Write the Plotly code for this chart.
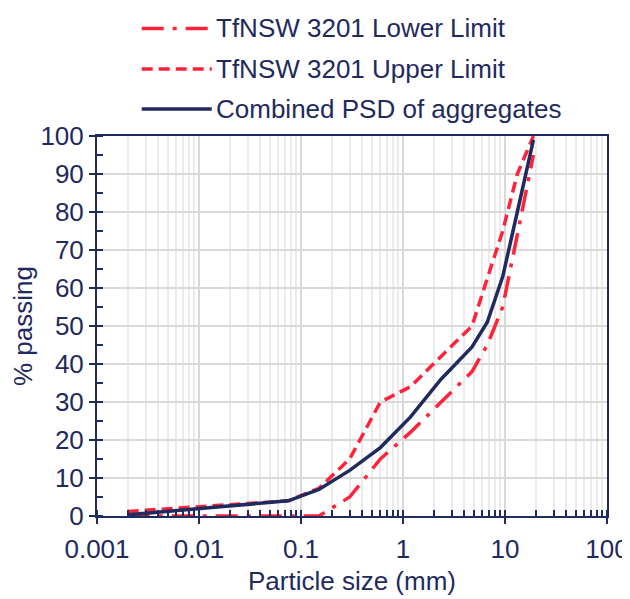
import plotly.graph_objects as go

# ---- data ----
sizes_mm = [0.002, 0.075, 0.15, 0.3, 0.6, 1.18, 2.36, 4.75, 6.7, 9.5, 13.2, 19]
lower_limit = [0, 0, 0, 5, 15, 22, 30, 38, 45, 55, 74, 95]
upper_limit = [1.2, 4, 7.3, 15, 30, 34, 42, 50, 62.5, 75, 90, 100]
combined_psd = [0.3, 4, 7, 12, 18, 26, 36, 44.5, 51, 63, 80, 99]

series_names = ["TfNSW 3201 Lower Limit", "TfNSW 3201 Upper Limit", "Combined PSD of aggregates"]
x_tick_vals = [0.001, 0.01, 0.1, 1, 10, 100]
x_tick_text = ["0.001", "0.01", "0.1", "1", "10", "100"]
x_title = "Particle size (mm)"
y_title = "% passing"

# ---- styles ----
NAVY = "#1F2A5E"
RED = "#FF2339"
FONT = "Liberation Sans, Arial, sans-serif"
FS = 26
dash_lower = "22px,9px,4px,9px"
dash_upper = "11px,6px"
solid = "solid"
styles = [(RED, dash_lower, 3.5), (RED, dash_upper, 3.5), (NAVY, solid, 3.5)]
series_values = [lower_limit, upper_limit, combined_psd]

fig = go.Figure()
for name, vals, (col, dash, w) in zip(series_names, series_values, styles):
    fig.add_trace(go.Scatter(x=sizes_mm, y=vals, mode="lines", name=name,
                             line=dict(color=col, dash=dash, width=w),
                             showlegend=False))

# invisible trace to activate overlay axes used for the inner half of major ticks
fig.add_trace(go.Scatter(x=[sizes_mm[0]], y=[lower_limit[0]], xaxis="x2", yaxis="y2",
                         mode="markers", marker=dict(opacity=0), showlegend=False,
                         hoverinfo="skip"))

# ---- manual legend (long sample lines as in the original) ----
legend_rows_y = [1.283, 1.176, 1.071]
shapes = []
annotations = []
for name, (col, dash, w), yy in zip(series_names, styles, legend_rows_y):
    shapes.append(dict(type="line", xref="paper", yref="paper", x0=0.0877, x1=0.225,
                       y0=yy, y1=yy, line=dict(color=col, dash=dash, width=w)))
    annotations.append(dict(text=name, xref="paper", yref="paper", x=0.229, y=yy,
                            xanchor="left", yanchor="middle", showarrow=False,
                            font=dict(family=FONT, size=FS, color=NAVY)))

fig.update_layout(
    width=622, height=591,
    margin=dict(l=89, r=23, t=128, b=83, autoexpand=False),
    paper_bgcolor="white", plot_bgcolor="white",
    font=dict(family=FONT, size=FS, color=NAVY),
    shapes=shapes, annotations=annotations,
    xaxis=dict(type="log", range=[-3, 2], tickmode="array", tickvals=x_tick_vals,
               ticktext=x_tick_text, ticks="outside", ticklen=6, tickwidth=2,
               tickcolor=NAVY, showline=True, linecolor=NAVY, linewidth=2, mirror=True,
               showgrid=True, gridcolor="#D9D9D9", gridwidth=1.5, zeroline=False,
               automargin=False, ticklabeloverflow="allow", ticklabelstandoff=3,
               minor=dict(tickmode="linear", dtick="D1", ticks="inside", ticklen=6,
                          tickwidth=1.5, tickcolor=NAVY, showgrid=True,
                          gridcolor="#EBEBEB", gridwidth=1.5),
               title=dict(text=x_title, font=dict(size=FS, color=NAVY), standoff=9),
               tickfont=dict(size=FS, color=NAVY)),
    yaxis=dict(range=[0, 100], dtick=10, ticks="outside", ticklen=6, tickwidth=2,
               tickcolor=NAVY, showline=True, linecolor=NAVY, linewidth=2, mirror=True,
               showgrid=True, gridcolor="#D9D9D9", gridwidth=1.5, zeroline=False,
               automargin=False, ticklabeloverflow="allow", ticklabelstandoff=0,
               minor=dict(dtick=5, ticks="inside", ticklen=6, tickwidth=2,
                          tickcolor=NAVY, showgrid=False),
               title=dict(text=y_title, font=dict(size=FS, color=NAVY), standoff=4),
               tickfont=dict(size=FS, color=NAVY)),
    xaxis2=dict(type="log", range=[-3, 2], overlaying="x", anchor="y2",
                tickmode="array", tickvals=x_tick_vals, ticks="inside", ticklen=6,
                tickwidth=2, tickcolor=NAVY, showticklabels=False, showgrid=False,
                showline=False, zeroline=False),
    yaxis2=dict(range=[0, 100], overlaying="y", anchor="x2", side="left", dtick=10,
                ticks="inside", ticklen=6, tickwidth=2, tickcolor=NAVY,
                showticklabels=False, showgrid=False, showline=False, zeroline=False),
)

fig.write_html("out.html")
